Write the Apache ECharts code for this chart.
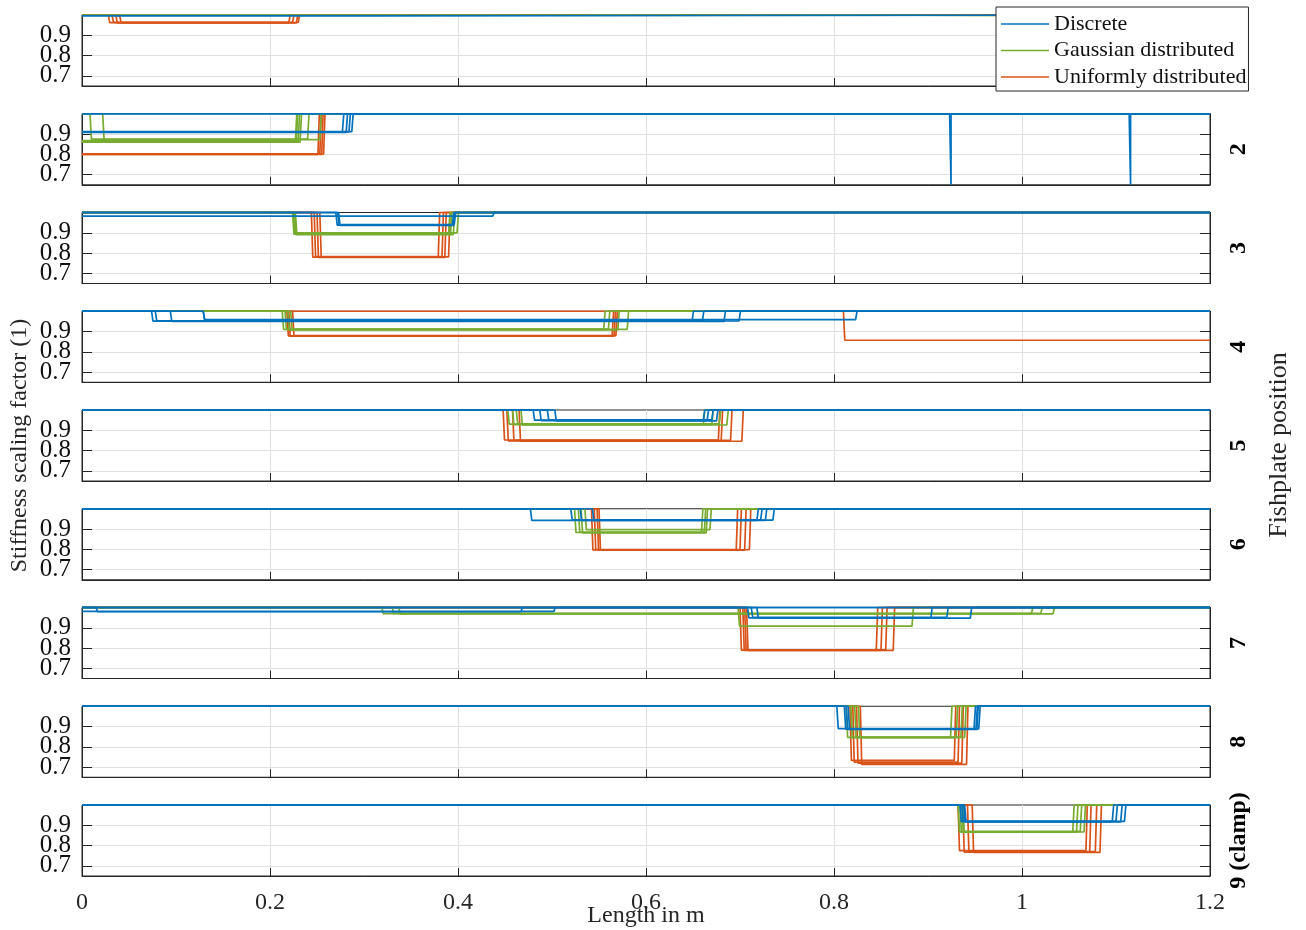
<!DOCTYPE html>
<html>
<head>
<meta charset="UTF-8">
<title>Stiffness scaling factor per fishplate position</title>
<script src="https://cdn.jsdelivr.net/npm/echarts@6/dist/echarts.min.js"></script>
<style>
  html, body { margin: 0; padding: 0; background: #fff; }
  #chart { width: 1306px; height: 930px; }
</style>
</head>
<body>
<div id="chart"></div>
<script>
// one row per fishplate position
var positions = ['1', '2', '3', '4', '5', '6', '7', '8', '9 (clamp)'];
var yTicks = [0.7, 0.8, 0.9];

// every realization is 1 outside one dip: [start in m, end in m, level]
var discrete = [
  [[0, 0.312, 0.996]],
  [[0, 0.277, 0.91], [0, 0.281, 0.908], [0, 0.284, 0.91], [0, 0.287, 0.912], [0.923, 0.923, 0.65], [1.114, 1.114, 0.65]],
  [[0, 0.437, 0.982], [0.270, 0.394, 0.938], [0.272, 0.396, 0.94], [0.273, 0.395, 0.936]],
  [[0.074, 0.649, 0.951], [0.078, 0.66, 0.953], [0.094, 0.683, 0.95], [0.129, 0.699, 0.952], [0.129, 0.823, 0.959]],
  [[0.48, 0.661, 0.95], [0.487, 0.665, 0.948], [0.495, 0.67, 0.951], [0.503, 0.675, 0.946]],
  [[0.477, 0.718, 0.943], [0.52, 0.722, 0.945], [0.53, 0.727, 0.942], [0.543, 0.735, 0.944]],
  [[0.015, 0.467, 0.979], [0, 0.502, 0.981], [0.708, 0.903, 0.949], [0.712, 0.92, 0.951], [0.718, 0.945, 0.948]],
  [[0.803, 0.949, 0.89], [0.811, 0.951, 0.887], [0.813, 0.952, 0.886], [0.815, 0.954, 0.888]],
  [[0.934, 1.096, 0.918], [0.936, 1.1, 0.92], [0.938, 1.105, 0.917], [0.939, 1.109, 0.919]]
];
var gaussian = [
  [[0.82, 1.2, 0.993]],
  [[0, 0.227, 0.862], [0, 0.230, 0.865], [0, 0.232, 0.86], [0.0085, 0.24, 0.875], [0.022, 0.253, 0.872], [0, 0.228, 0.868]],
  [[0.224, 0.390, 0.893], [0.225, 0.392, 0.895], [0.226, 0.395, 0.891], [0.227, 0.399, 0.9]],
  [[0.213, 0.555, 0.91], [0.216, 0.56, 0.912], [0.219, 0.57, 0.908], [0.222, 0.58, 0.911]],
  [[0.453, 0.661, 0.93], [0.458, 0.67, 0.928], [0.462, 0.678, 0.932], [0.467, 0.686, 0.926]],
  [[0.524, 0.659, 0.883], [0.528, 0.662, 0.885], [0.531, 0.664, 0.881], [0.535, 0.668, 0.897]],
  [[0.319, 1.01, 0.97], [0.33, 1.02, 0.971], [0.337, 1.033, 0.969], [0.698, 0.883, 0.908]],
  [[0.813, 0.924, 0.847], [0.818, 0.93, 0.845], [0.822, 0.935, 0.848], [0.826, 0.939, 0.846]],
  [[0.932, 1.054, 0.868], [0.934, 1.058, 0.866], [0.936, 1.062, 0.87], [0.937, 1.066, 0.867]]
];
var uniform = [
  [[0.028, 0.220, 0.962], [0.032, 0.224, 0.964], [0.036, 0.228, 0.961], [0.040, 0.230, 0.963]],
  [[0, 0.251, 0.80], [0, 0.253, 0.802], [0, 0.255, 0.799], [0, 0.257, 0.801]],
  [[0.244, 0.379, 0.78], [0.247, 0.383, 0.782], [0.25, 0.386, 0.779], [0.253, 0.390, 0.781]],
  [[0.218, 0.564, 0.879], [0.22, 0.566, 0.877], [0.224, 0.568, 0.88], [0.81, 1.2, 0.857]],
  [[0.448, 0.677, 0.852], [0.452, 0.68, 0.848], [0.458, 0.69, 0.85], [0.465, 0.702, 0.846]],
  [[0.542, 0.696, 0.797], [0.545, 0.7, 0.799], [0.548, 0.705, 0.796], [0.55, 0.71, 0.798]],
  [[0.70, 0.845, 0.79], [0.703, 0.85, 0.788], [0.705, 0.855, 0.791], [0.707, 0.863, 0.789]],
  [[0.817, 0.928, 0.733], [0.82, 0.932, 0.725], [0.824, 0.936, 0.72], [0.828, 0.941, 0.713]],
  [[0.932, 1.068, 0.775], [0.937, 1.072, 0.768], [0.942, 1.078, 0.77], [0.947, 1.083, 0.766]]
];

var XMAX = 1.2, YMIN = 0.65, YMAX = 1.0, SLANT = 0.0015;
var serif = '"Liberation Serif", "Times New Roman", serif';
var ink = '#262626';
var gridColor = '#e1e1e1';

function stepLine(d) {
  var s = d[0], e = Math.max(d[1], d[0]), v = d[2];
  var pts = [];
  if (s > 0) pts.push([0, 1], [s, 1], [s + SLANT, v]);
  else pts.push([0, v]);
  if (e < XMAX) pts.push([e, v], [e + SLANT, 1], [XMAX, 1]);
  else pts.push([XMAX, v]);
  return pts;
}

var groups = [
  { name: 'Uniformly distributed', color: '#D95319', dips: uniform },
  { name: 'Gaussian distributed', color: '#77AC30', dips: gaussian },
  { name: 'Discrete', color: '#0072BD', dips: discrete }
];

var grids = [], xAxes = [], yAxes = [], series = [];
var TOP = 15, STEP = 98.75, H = 71;

positions.forEach(function (label, i) {
  var last = i === positions.length - 1;
  grids.push({ left: 82, width: 1128, top: TOP + i * STEP, height: H,
    outerBoundsMode: 'none', containLabel: false,
    show: true, borderColor: ink, borderWidth: 1 });
  xAxes.push({
    type: 'value', gridIndex: i, min: 0, max: XMAX, interval: 0.2,
    axisLine: { show: true, lineStyle: { color: ink } },
    axisTick: { show: true, inside: true, length: 8, lineStyle: { color: ink } },
    axisLabel: { show: last, margin: 15, fontFamily: serif, fontSize: 24, color: ink },
    splitLine: { show: true, lineStyle: { color: gridColor } },
    name: last ? 'Length in m' : '', nameLocation: 'middle', nameGap: 28, nameMoveOverlap: false,
    nameTextStyle: { fontFamily: serif, fontSize: 24, color: ink }
  });
  // main left axis: ticks, grid lines and the axis title
  var mainIndex = yAxes.length;
  yAxes.push({
    type: 'value', gridIndex: i, min: YMIN, max: YMAX,
    axisLine: { show: true, lineStyle: { color: ink } },
    axisTick: { show: true, inside: true, length: 10, customValues: yTicks, lineStyle: { color: ink } },
    axisLabel: { show: false },
    splitLine: { show: true, lineStyle: { color: gridColor } },
    name: i === 4 ? 'Stiffness scaling factor (1)' : '', nameLocation: 'middle', nameGap: 50,
    nameMoveOverlap: false,
    nameTextStyle: { fontFamily: serif, fontSize: 24, color: ink }
  });
  // one label per axis so the packed labels are never thinned out
  yTicks.forEach(function (t) {
    yAxes.push({
      type: 'value', gridIndex: i, min: YMIN, max: YMAX, position: 'left',
      axisLine: { show: false }, axisTick: { show: false }, splitLine: { show: false },
      axisLabel: { customValues: [t], margin: 11, fontFamily: serif, fontSize: 25, color: '#111' }
    });
  });
  yAxes.push({
    type: 'value', gridIndex: i, min: YMIN, max: YMAX, position: 'right',
    axisLine: { show: true, lineStyle: { color: ink } },
    axisTick: { show: true, inside: true, length: 10, customValues: yTicks, lineStyle: { color: ink } },
    axisLabel: { show: false },
    splitLine: { show: false },
    name: label, nameLocation: 'middle', nameRotate: 90, nameGap: 17, nameMoveOverlap: false,
    nameTextStyle: { fontFamily: serif, fontSize: 24, fontWeight: 'bold', color: '#000' }
  });
  groups.forEach(function (g) {
    g.dips[i].forEach(function (d) {
      series.push({
        name: g.name, type: 'line', xAxisIndex: i, yAxisIndex: mainIndex,
        data: stepLine(d), symbol: 'none', clip: false,
        lineStyle: { color: g.color, width: 1.7 }, itemStyle: { color: g.color }
      });
    });
  });
});

var chart = echarts.init(document.getElementById('chart'), null, { renderer: 'canvas' });
chart.setOption({
  animation: false,
  backgroundColor: '#fff',
  grid: grids,
  xAxis: xAxes,
  yAxis: yAxes,
  legend: {
    data: ['Discrete', 'Gaussian distributed', 'Uniformly distributed'],
    orient: 'vertical', left: 996, top: 7, selectedMode: false,
    backgroundColor: '#fff', borderColor: ink, borderWidth: 1,
    padding: [6, 2, 3, 5], icon: 'rect', itemWidth: 48, itemHeight: 1.6, itemGap: 4.5,
    textStyle: { fontFamily: serif, fontSize: 22, lineHeight: 22, color: '#111' }
  },
  graphic: [{
    type: 'text', x: 1279, y: 445, rotation: Math.PI / 2,
    style: { text: 'Fishplate position', fontFamily: serif, fontSize: 26, fill: ink,
      textAlign: 'center', textVerticalAlign: 'middle' }
  }],
  series: series
});
</script>
</body>
</html>
